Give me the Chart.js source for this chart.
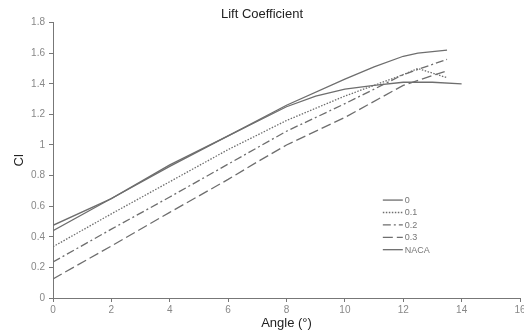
<!DOCTYPE html>
<html>
<head>
  <title>Lift Coefficient</title>
  <script src="https://cdn.jsdelivr.net/npm/chart.js@4"></script>
  <style>
    html, body { margin: 0; padding: 0; background: #fff; overflow: hidden; }
  </style>
</head>
<body>
  <div style="position: relative; width:524px; height:331px;">
    <canvas id="lift" width="524" height="331"></canvas>
  </div>
  <script>
    // values
    var angle0   = [0, 2, 4, 6, 8, 10, 11, 12, 12.5, 13.5];
    var cl0      = [0.44, 0.65, 0.86, 1.06, 1.26, 1.43, 1.51, 1.58, 1.60, 1.62];
    var angle01  = [0, 2, 4, 6, 8, 10, 12, 12.5, 13.5];
    var cl01     = [0.335, 0.55, 0.76, 0.97, 1.16, 1.32, 1.46, 1.50, 1.44];
    var angle02  = [0, 2, 4, 6, 8, 10, 12, 13.5];
    var cl02     = [0.235, 0.45, 0.66, 0.875, 1.09, 1.27, 1.46, 1.56];
    var angle03  = [0, 2, 4, 6, 7, 8, 10, 12, 13.5];
    var cl03     = [0.125, 0.34, 0.56, 0.775, 0.89, 1.0, 1.18, 1.39, 1.485];
    var angleNaca = [0, 2, 4, 6, 8, 9, 10, 11, 12, 13, 14];
    var clNaca    = [0.475, 0.65, 0.87, 1.06, 1.25, 1.32, 1.365, 1.39, 1.41, 1.41, 1.40];

    var seriesLabels = ["0", "0.1", "0.2", "0.3", "NACA"];
    var xTicks = [0, 2, 4, 6, 8, 10, 12, 14, 16];
    var yTicks = [0, 0.2, 0.4, 0.6, 0.8, 1, 1.2, 1.4, 1.6, 1.8];

    function pts(xs, ys) {
      var out = [];
      for (var i = 0; i < xs.length; i++) out.push({x: xs[i], y: ys[i]});
      return out;
    }

    var lineColor = "#6e6e6e";
    var sets = [
      {label: seriesLabels[0], data: pts(angle0, cl0), borderDash: []},
      {label: seriesLabels[1], data: pts(angle01, cl01), borderDash: [1.5, 1.5]},
      {label: seriesLabels[2], data: pts(angle02, cl02), borderDash: [8, 3, 2, 3]},
      {label: seriesLabels[3], data: pts(angle03, cl03), borderDash: [10, 4]},
      {label: seriesLabels[4], data: pts(angleNaca, clNaca), borderDash: []}
    ];
    sets.forEach(function(s) {
      s.borderColor = lineColor;
      s.borderWidth = 1.3;
      s.pointRadius = 0;
      s.fill = false;
      s.tension = 0;
      s.showLine = true;
    });

    // small legend drawn inside the plot, like the original
    var innerLegend = {
      id: 'innerLegend',
      afterDraw: function(chart) {
        var ctx = chart.ctx;
        var x0 = chart.scales.x.getPixelForValue(11.3);
        var y0 = chart.scales.y.getPixelForValue(0.64);
        ctx.save();
        ctx.font = "9px 'Liberation Sans', Arial, sans-serif";
        ctx.fillStyle = "#777";
        ctx.textBaseline = "middle";
        chart.data.datasets.forEach(function(ds, i) {
          var y = y0 + i * 12.4;
          ctx.strokeStyle = ds.borderColor;
          ctx.lineWidth = ds.borderWidth;
          ctx.setLineDash(ds.borderDash);
          ctx.beginPath();
          ctx.moveTo(x0, y);
          ctx.lineTo(x0 + 20, y);
          ctx.stroke();
          ctx.setLineDash([]);
          ctx.fillText(ds.label, x0 + 22, y + 0.5);
        });
        ctx.restore();
      }
    };

    new Chart(document.getElementById("lift"), {
      type: 'scatter',
      data: { datasets: sets },
      plugins: [innerLegend],
      options: {
        responsive: false,
        animation: false,
        layout: { padding: 0 },
        plugins: {
          legend: { display: false },
          tooltip: { enabled: false },
          title: {
            display: true,
            text: 'Lift Coefficient',
            color: '#222',
            font: { family: "'Liberation Sans', Arial, sans-serif", size: 13, weight: 'normal' },
            padding: { top: 7, bottom: 0 }
          }
        },
        scales: {
          x: {
            type: 'linear',
            min: 0, max: 16,
            afterBuildTicks: function(s) { s.ticks = xTicks.map(function(v) { return {value: v}; }); },
            afterFit: function(s) { s.height = 33; s.paddingRight = 4; },
            border: { color: '#777', width: 1 },
            grid: { display: true, drawOnChartArea: false, tickLength: 4, color: '#777' },
            ticks: {
              color: '#888', padding: 2, maxRotation: 0, autoSkip: false,
              font: { family: "'Liberation Sans', Arial, sans-serif", size: 10 }
            },
            title: {
              display: true, text: 'Angle (°)', color: '#222', padding: 0,
              font: { family: "'Liberation Sans', Arial, sans-serif", size: 13 }
            }
          },
          y: {
            type: 'linear',
            min: 0, max: 1.8,
            afterBuildTicks: function(s) { s.ticks = yTicks.map(function(v) { return {value: v}; }); },
            afterFit: function(s) { s.width = 53; },
            border: { color: '#777', width: 1 },
            grid: { display: true, drawOnChartArea: false, tickLength: 4, color: '#777' },
            ticks: {
              color: '#888', padding: 4, autoSkip: false,
              font: { family: "'Liberation Sans', Arial, sans-serif", size: 10 },
              callback: function(v) { return String(Math.round(v * 10) / 10); }
            },
            title: {
              display: true, text: 'Cl', color: '#222', padding: { top: 12, bottom: 0 },
              font: { family: "'Liberation Sans', Arial, sans-serif", size: 13 }
            }
          }
        }
      }
    });
  </script>
</body>
</html>
